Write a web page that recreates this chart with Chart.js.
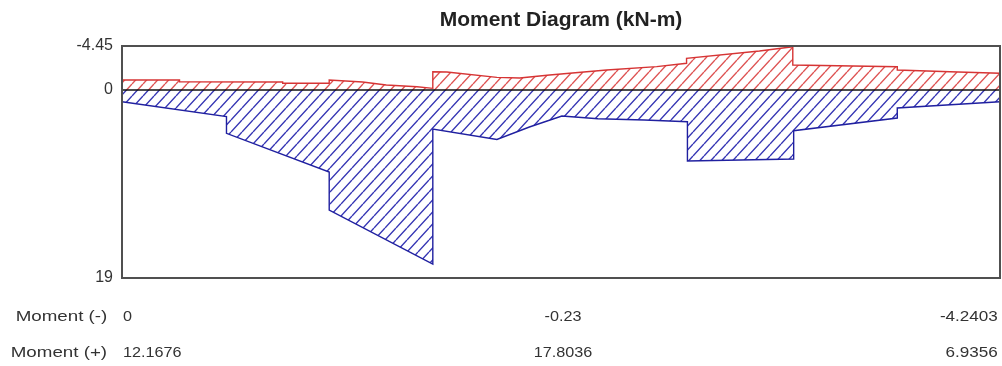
<!DOCTYPE html>
<html>
<head>
<meta charset="utf-8">
<script src="https://cdn.jsdelivr.net/npm/chart.js@4.4.1/dist/chart.umd.min.js"></script>
<style>
  html, body { margin: 0; padding: 0; background: #ffffff; }
  #wrap { position: relative; width: 1002px; height: 366px; overflow: hidden; }
  #wrap canvas { position: absolute; left: 0; top: 0; }
  .txt { position: absolute; font-family: "Liberation Sans", Arial, sans-serif; font-size: 15px; color: #333; line-height: 18px; white-space: nowrap; }
  .lbl { transform: scaleX(1.25); transform-origin: right center; }
  .numL { transform: scaleX(1.08); transform-origin: left center; }
  .numC { transform: translateX(-50%) scaleX(1.08); transform-origin: center center; }
  .numR { transform: scaleX(1.14); transform-origin: right center; }
</style>
</head>
<body>
<div id="wrap">
  <canvas id="chart" width="1002" height="366"></canvas>
  <div id="table"></div>
</div>
<script>
// ---- Data (position along beam, % of span; moment values, kN-m) ----
const titleText = "Moment Diagram (kN-m)";
const yTickValues = [-4.45, 0, 19];

// Positive moment envelope (blue, drawn below zero line)
const posX = [0, 11.9, 11.9, 23.6, 23.6, 35.4, 35.4, 42.7, 46.4, 50.1, 54.2, 59.5, 64.4, 64.4, 76.5, 76.5, 88.3, 88.3, 100];
const posY = [1.18, 2.68, 4.38, 8.29, 12.13, 17.59, 3.94, 5.0, 3.74, 2.63, 2.9, 3.03, 3.2, 7.18, 6.97, 4.11, 2.83, 1.82, 1.18];

// Negative moment envelope (red, drawn above zero line)
const negX = [0, 6.55, 6.55, 18.3, 18.3, 23.6, 23.6, 27.4, 30.1, 33.6, 35.4, 35.4, 37.0, 42.7, 45.3, 48.7, 55.2, 60.9, 64.3, 64.3, 72.6, 76.4, 76.4, 88.3, 88.3, 94.3, 100];
const negY = [-1.01, -1.01, -0.84, -0.81, -0.68, -0.68, -1.01, -0.81, -0.51, -0.33, -0.17, -1.85, -1.82, -1.28, -1.21, -1.52, -2.02, -2.36, -2.70, -3.20, -3.94, -4.38, -2.53, -2.36, -2.02, -1.85, -1.69];

// Summary table below the chart
const rowLabels = ["Moment (-)", "Moment (+)"];
const momentNeg = ["0", "-0.23", "-4.2403"];
const momentPos = ["12.1676", "17.8036", "6.9356"];

// ---- Hatch patterns (diagonal "/" lines) ----
function hatch(color) {
  const w = 11, h = 12;
  const c = document.createElement('canvas');
  c.width = w; c.height = h;
  const g = c.getContext('2d');
  g.fillStyle = '#ffffff';
  g.fillRect(0, 0, w, h);
  g.strokeStyle = color;
  g.lineWidth = 1.4;
  g.beginPath();
  for (let k = -1; k <= 1; k++) {
    g.moveTo(k * w, h);
    g.lineTo(k * w + w, 0);
  }
  g.stroke();
  return g.createPattern(c, 'repeat');
}

const toPts = (xs, ys) => xs.map((x, i) => ({ x: x, y: ys[i] }));

const framePlugin = {
  id: 'frame',
  afterDatasetsDraw(chart) {
    const { ctx, chartArea: a, scales } = chart;
    const y0 = scales.y.getPixelForValue(0);
    ctx.save();
    ctx.strokeStyle = '#111';
    ctx.lineWidth = 1.5;
    ctx.beginPath();
    ctx.moveTo(a.left, y0); ctx.lineTo(a.right, y0);
    ctx.stroke();
    ctx.strokeStyle = '#505050';
    ctx.lineWidth = 2;
    ctx.strokeRect(a.left, a.top, a.right - a.left, a.bottom - a.top);
    ctx.restore();
  }
};

new Chart(document.getElementById('chart'), {
  type: 'scatter',
  data: {
    datasets: [
      {
        label: 'Moment (+)',
        data: toPts(posX, posY),
        showLine: true,
        borderColor: '#2020a0',
        borderWidth: 1.4,
        backgroundColor: hatch('#3636b4'),
        fill: 'origin',
        pointRadius: 0,
        tension: 0
      },
      {
        label: 'Moment (-)',
        data: toPts(negX, negY),
        showLine: true,
        borderColor: '#d63434',
        borderWidth: 1.4,
        backgroundColor: hatch('#de5454'),
        fill: 'origin',
        pointRadius: 0,
        tension: 0
      }
    ]
  },
  options: {
    responsive: false,
    animation: false,
    layout: { padding: { top: 0, right: 2, bottom: 88, left: 0 } },
    plugins: {
      legend: { display: false },
      tooltip: { enabled: false },
      title: {
        display: true,
        text: titleText,
        fullSize: false,
        color: '#222',
        font: { family: '"Liberation Sans", Arial, sans-serif', size: 21, weight: 'bold' },
        padding: { top: 8, bottom: 12.8 }
      }
    },
    scales: {
      x: {
        type: 'linear',
        display: false,
        min: 0,
        max: 100
      },
      y: {
        type: 'linear',
        reverse: true,
        min: -4.45,
        max: 19,
        afterBuildTicks(scale) { scale.ticks = yTickValues.map(v => ({ value: v })); },
        afterFit(scale) { scale.width = 122; },
        grid: { display: false, drawTicks: false },
        border: { display: false },
        ticks: {
          padding: 9,
          color: '#333',
          font: { family: '"Liberation Sans", Arial, sans-serif', size: 16 },
          callback: v => String(v)
        }
      }
    }
  },
  plugins: [framePlugin]
});

// ---- Summary rows ----
(function () {
  const t = document.getElementById('table');
  const rows = [momentNeg, momentPos];
  const rowCenters = [316, 352];
  rows.forEach((vals, r) => {
    const top = rowCenters[r] - 9;
    const lab = document.createElement('div');
    lab.className = 'txt lbl';
    lab.style.top = top + 'px';
    lab.style.right = (1002 - 107) + 'px';
    lab.textContent = rowLabels[r];
    t.appendChild(lab);

    const a = document.createElement('div');
    a.className = 'txt numL';
    a.style.top = top + 'px';
    a.style.left = '123px';
    a.textContent = vals[0];
    t.appendChild(a);

    const b = document.createElement('div');
    b.className = 'txt numC';
    b.style.top = top + 'px';
    b.style.left = '563px';
    b.textContent = vals[1];
    t.appendChild(b);

    const c = document.createElement('div');
    c.className = 'txt numR';
    c.style.top = top + 'px';
    c.style.right = (1002 - 998) + 'px';
    c.textContent = vals[2];
    t.appendChild(c);
  });
})();
</script>
</body>
</html>
